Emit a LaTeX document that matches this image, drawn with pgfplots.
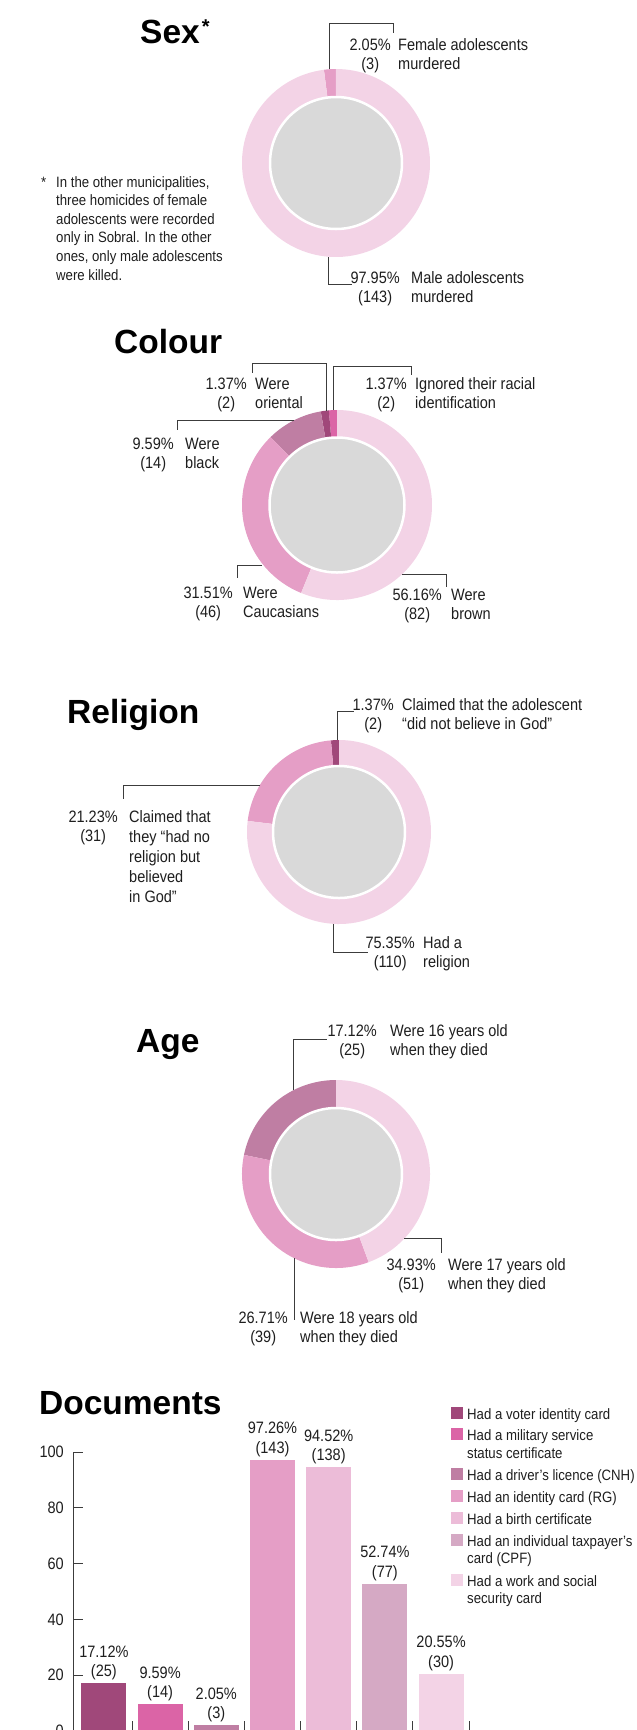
\documentclass[border=0pt]{standalone}
\usepackage{fontspec}
\setmainfont{Liberation Sans}[FakeStretch=0.88]
\newfontfamily\titlefont{Liberation Sans}
\usepackage{pgfplots}
\pgfplotsset{compat=1.18}
\usetikzlibrary{calc}

\definecolor{cDark}{HTML}{A0487A}
\definecolor{cBright}{HTML}{DB64A6}
\definecolor{cMauve}{HTML}{BF7EA3}
\definecolor{cMed}{HTML}{E59EC6}
\definecolor{cBirth}{HTML}{ECBCD8}
\definecolor{cCPF}{HTML}{D5A9C4}
\definecolor{cLight}{HTML}{F3D3E6}
\definecolor{cHole}{HTML}{D9D9D9}
\definecolor{cLine}{HTML}{3C3C3C}
\definecolor{cText}{HTML}{1E1E1E}

\newcommand{\lab}{\fontsize{16.5}{19.5}\selectfont}
\newcommand{\sml}{\fontsize{15}{18.5}\selectfont}
\newcommand{\ttl}{\titlefont\bfseries\fontsize{33.5}{36}\selectfont}

\tikzset{
  lab/.style={font=\lab, inner sep=0pt, text=cText},
  sml/.style={font=\sml, inner sep=0pt, text=cText},
  ttl/.style={font=\ttl, inner sep=0pt, text=black, anchor=base west},
  lead/.style={draw=cLine, line width=0.9pt},
}
\pgfplotsset{
  donut/.style={anchor=center, scale only axis, hide axis, disabledatascaling,
    xmin=-1, xmax=1, ymin=-1, ymax=1, clip=false},
}

% slice of a ring: cumulative start, cumulative end, total, outer radius (pt), colour
\newcommand{\slice}[5]{%
  \fill[#5] (axis cs:0,0) -- (axis cs:{cos(90+#1/#3*360)},{sin(90+#1/#3*360)})
    arc[start angle={90+#1/#3*360}, end angle={90+#2/#3*360}, radius=#4pt] -- cycle;}
\newcommand{\hole}[1]{%
  \fill[cHole, draw=white, line width=2.5pt] (axis cs:0,0) circle[radius=#1pt];}

% percentage right aligned, count centred below it
\newcommand{\pc}[4]{%
  \node[lab, anchor=base east] (tmp) at (#1,#2) {#3};
  \node[lab, anchor=base] at ($(tmp.base)+(0,19.5)$) {#4};}
\newcommand{\tx}[3]{\node[lab, anchor=base west] at (#1,#2) {#3};}

\newcommand{\barlab}[4]{%
  \node[lab, anchor=base, yshift=6.5pt] at (axis cs:#1,#2) {#4};
  \node[lab, anchor=base, yshift=26pt] at (axis cs:#1,#2) {#3};}

\begin{document}
\begin{tikzpicture}
\path[use as bounding box] (0,0) rectangle (637pt,-1730pt);

% ---------------- donuts ----------------
% Sex (146)
\begin{axis}[donut, at={(336pt,-163pt)}, width=188pt, height=188pt]
  \slice{0}{3}{146}{94}{cMed}
  \slice{3}{146}{146}{94}{cLight}
  \hole{66}
\end{axis}

% Colour (146)
\begin{axis}[donut, at={(337pt,-505pt)}, width=190pt, height=190pt]
  \slice{0}{2}{146}{95}{cBright}
  \slice{2}{4}{146}{95}{cDark}
  \slice{4}{18}{146}{95}{cMauve}
  \slice{18}{64}{146}{95}{cMed}
  \slice{64}{146}{146}{95}{cLight}
  \hole{67.5}
\end{axis}

% Religion (143)
\begin{axis}[donut, at={(339pt,-832pt)}, width=184pt, height=184pt]
  \slice{0}{2}{143}{92}{cDark}
  \slice{2}{33}{143}{92}{cMed}
  \slice{33}{143}{143}{92}{cLight}
  \hole{66}
\end{axis}

% Age (115)
\begin{axis}[donut, at={(336pt,-1174pt)}, width=188pt, height=188pt]
  \slice{0}{25}{115}{94}{cMauve}
  \slice{25}{64}{115}{94}{cMed}
  \slice{64}{115}{115}{94}{cLight}
  \hole{66}
\end{axis}

% ---------------- documents bars ----------------
\begin{axis}[
  at={(73pt,-1731pt)}, anchor=south west,
  width=399pt, height=279pt, scale only axis,
  xmin=-0.55, xmax=6.55, ymin=0, ymax=100,
  axis x line*=bottom, axis y line*=left,
  axis line style={draw=cLine, line width=1pt},
  ytick={0,20,40,60,80,100},
  xtick={0.5,1.5,2.5,3.5,4.5,5.5,6.5}, xticklabels={},
  tick align=inside, major tick length=10pt,
  tick style={draw=cLine, line width=1pt},
  yticklabel style={font=\lab, text=cText, inner sep=0pt, xshift=-9pt},
  /pgf/number format/assume math mode=true,
  clip=false,
]
  \addplot[ybar, bar width=45pt, bar shift=0pt, fill=cDark, draw=none] coordinates {(0,17.12)};
  \addplot[ybar, bar width=45pt, bar shift=0pt, fill=cBright, draw=none] coordinates {(1,9.59)};
  \addplot[ybar, bar width=45pt, bar shift=0pt, fill=cMauve, draw=none] coordinates {(2,2.05)};
  \addplot[ybar, bar width=45pt, bar shift=0pt, fill=cMed, draw=none] coordinates {(3,97.26)};
  \addplot[ybar, bar width=45pt, bar shift=0pt, fill=cBirth, draw=none] coordinates {(4,94.52)};
  \addplot[ybar, bar width=45pt, bar shift=0pt, fill=cCPF, draw=none] coordinates {(5,52.74)};
  \addplot[ybar, bar width=45pt, bar shift=0pt, fill=cLight, draw=none] coordinates {(6,20.55)};
  \barlab{0}{17.12}{17.12\%}{(25)}
  \barlab{1}{9.59}{9.59\%}{(14)}
  \barlab{2}{2.05}{2.05\%}{(3)}
  \barlab{3}{97.26}{97.26\%}{(143)}
  \barlab{4}{94.52}{94.52\%}{(138)}
  \barlab{5}{52.74}{52.74\%}{(77)}
  \barlab{6}{20.55}{20.55\%}{(30)}
\end{axis}

% ---------------- titles, leaders and labels ----------------
\begin{scope}[x=1pt, y=-1pt]
% titles
\node[ttl] at (140,43) {Sex\hspace{2pt}\raisebox{10pt}{\fontsize{20}{20}\selectfont *}};
\node[ttl] at (114,353) {Colour};
\node[ttl] at (67,723) {Religion};
\node[ttl] at (136,1052) {Age};
\node[ttl] at (39,1414) {Documents};

% Sex
\draw[lead] (329,69) -- (329,23) -- (393,23) -- (393,33);
\pc{391}{50}{2.05\%}{(3)}
\tx{398}{50}{Female adolescents}
\tx{398}{69.5}{murdered}
\draw[lead] (328,257) -- (328,284) -- (352,284);
\pc{400}{283}{97.95\%}{(143)}
\tx{411}{283}{Male adolescents}
\tx{411}{302.5}{murdered}

% footnote
\node[sml, anchor=base west] at (41,187) {*};
\foreach \t [count=\i from 0] in {{In the other municipalities,}, {three homicides of female},
  {adolescents were recorded}, {only in Sobral. In the other}, {ones, only male adolescents}, {were killed.}}
  \node[sml, anchor=base west] at (56,187+18.6*\i) {\t};

% Colour
\draw[lead] (326,411) -- (326,363) -- (252,363) -- (252,373);
\pc{247}{389}{1.37\%}{(2)}
\tx{255}{389}{Were}
\tx{255}{408.5}{oriental}
\draw[lead] (333,410) -- (333,366) -- (411,366) -- (411,375);
\pc{407}{389}{1.37\%}{(2)}
\tx{415}{389}{Ignored their racial}
\tx{415}{408.5}{identification}
\draw[lead] (294,420) -- (177,420) -- (177,430);
\pc{174}{449}{9.59\%}{(14)}
\tx{185}{449}{Were}
\tx{185}{468.5}{black}
\draw[lead] (262,565) -- (237,565) -- (237,578);
\pc{233}{598}{31.51\%}{(46)}
\tx{243}{598}{Were}
\tx{243}{617.5}{Caucasians}
\draw[lead] (402,574) -- (446,574) -- (446,587);
\pc{442}{600}{56.16\%}{(82)}
\tx{451}{600}{Were}
\tx{451}{619.5}{brown}

% Religion
\draw[lead] (337,740) -- (337,711) -- (354,711);
\pc{394}{710}{1.37\%}{(2)}
\tx{402}{710}{Claimed that the adolescent}
\tx{402}{729.5}{“did not believe in God”}
\draw[lead] (260,785) -- (123,785) -- (123,799);
\pc{118}{822}{21.23\%}{(31)}
\tx{129}{822}{Claimed that}
\tx{129}{842}{they “had no}
\tx{129}{862}{religion but}
\tx{129}{882}{believed}
\tx{129}{902}{in God”}
\draw[lead] (333,924) -- (333,952) -- (368,952);
\pc{415}{948}{75.35\%}{(110)}
\tx{423}{948}{Had a}
\tx{423}{967.5}{religion}

% Age
\draw[lead] (293,1090) -- (293,1039) -- (327,1039);
\pc{377}{1036}{17.12\%}{(25)}
\tx{390}{1036}{Were 16 years old}
\tx{390}{1055.5}{when they died}
\draw[lead] (404,1238) -- (441,1238) -- (441,1253);
\pc{436}{1270}{34.93\%}{(51)}
\tx{448}{1270}{Were 17 years old}
\tx{448}{1289.5}{when they died}
\draw[lead] (294,1258) -- (294,1320);
\pc{288}{1323}{26.71\%}{(39)}
\tx{300}{1323}{Were 18 years old}
\tx{300}{1342.5}{when they died}

% legend of the documents chart
\foreach \c/\b in {cDark/1419, cBright/1440, cMauve/1480, cMed/1502, cBirth/1524, cCPF/1546, cLight/1586}
  \fill[\c] (451,\b-12) rectangle (463,\b);
\foreach \t/\b in {Had a voter identity card/1419, Had a military service/1440,
  status certificate/1458, Had a driver's licence (CNH)/1480, Had an identity card (RG)/1502,
  Had a birth certificate/1524, Had an individual taxpayer's/1546, card (CPF)/1563,
  Had a work and social/1586, security card/1603}
  \node[sml, anchor=base west] at (467,\b) {\t};
\end{scope}
\end{tikzpicture}
\end{document}
